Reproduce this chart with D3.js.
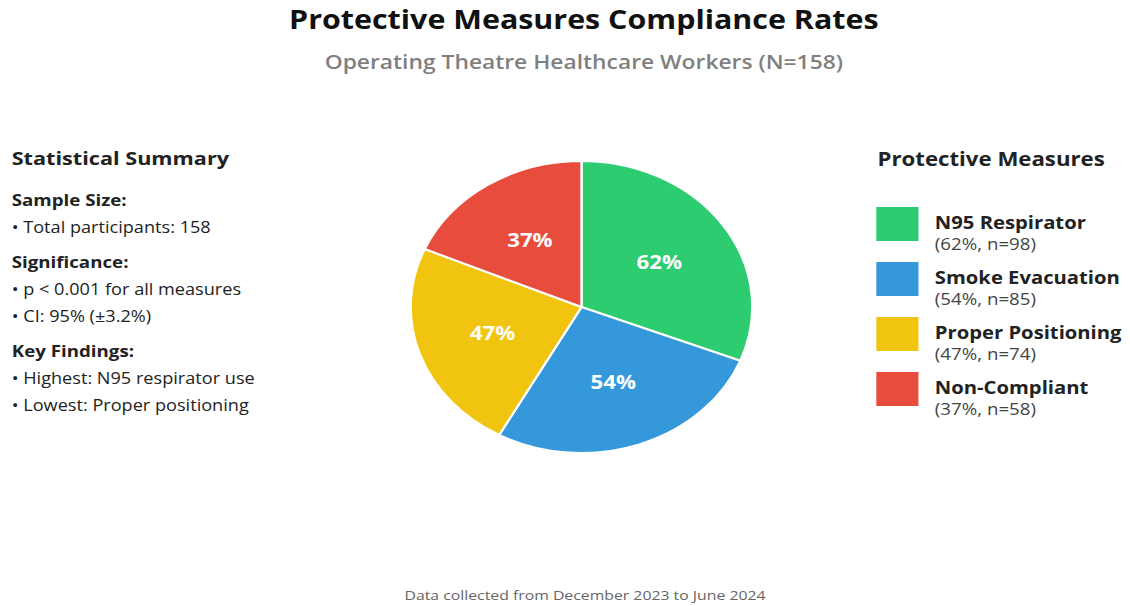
<!DOCTYPE html>
<html lang="en">
<head>
    <meta charset="UTF-8">
    <title>Protective Measures Compliance Rates</title>
    <script src="https://d3js.org/d3.v7.min.js"></script>
</head>
<style>
    html, body {
        margin: 0;
        padding: 0;
        background: #fff;
    }
    #chart svg {
        display: block;
    }
    text {
        font-family: "Segoe UI", "Open Sans", "Noto Sans", sans-serif;
    }
    .slice path {
        stroke: #fff;
        stroke-width: 2px;
    }
    .slice-label {
        fill: #fff;
        font-weight: bold;
        font-size: 19px;
    }
</style>
<body>
<div id="chart"></div>
<script>
  // data
  const measures = ["N95 Respirator", "Smoke Evacuation", "Proper Positioning", "Non-Compliant"];
  const percents = [62, 54, 47, 37];
  const counts = [98, 85, 74, 58];
  const colors = ["#2ecc71", "#3498db", "#f1c40f", "#e74c3c"];

  const summaryHeads = ["Sample Size:", "Significance:", "Key Findings:"];
  const summaryItems = [
    ["Total participants: 158"],
    ["p < 0.001 for all measures", "CI: 95% (±3.2%)"],
    ["Highest: N95 respirator use", "Lowest: Proper positioning"]
  ];

  // page size, the drawing is stretched a bit sideways
  const width = 1130, height = 606;
  const stretch = 1.17;
  const W = width / stretch;
  const cx = 497, cy = 307, radius = 146;

  const svg = d3.select("#chart").append("svg")
    .attr("width", width)
    .attr("height", height)
    .attr("viewBox", `0 0 ${W} ${height}`)
    .attr("preserveAspectRatio", "none");

  // titles
  svg.append("text")
    .attr("x", cx + 2).attr("y", 29)
    .attr("text-anchor", "middle")
    .style("font-size", "26px").style("font-weight", "bold").style("fill", "#111")
    .text("Protective Measures Compliance Rates");

  svg.append("text")
    .attr("x", cx + 2).attr("y", 69)
    .attr("text-anchor", "middle")
    .style("font-size", "19.5px").style("font-weight", "600").style("fill", "#7f7f7f")
    .text("Operating Theatre Healthcare Workers (N=158)");

  // pie
  const pie = d3.pie().sort(null).value(d => d);
  const arc = d3.arc().innerRadius(0).outerRadius(radius);
  const labelArc = d3.arc().innerRadius(radius * 0.55).outerRadius(radius * 0.55);

  const g = svg.append("g").attr("transform", `translate(${cx},${cy})`);

  const slice = g.selectAll(".slice")
    .data(pie(percents))
    .enter().append("g")
    .attr("class", "slice");

  slice.append("path")
    .attr("d", arc)
    .attr("fill", (d, i) => colors[i]);

  slice.append("text")
    .attr("class", "slice-label")
    .attr("transform", d => `translate(${labelArc.centroid(d)})`)
    .attr("text-anchor", "middle")
    .attr("dy", "0.35em")
    .text(d => d.data + "%");

  // statistical summary on the left
  const left = svg.append("g").attr("transform", "translate(10,0)");
  left.append("text")
    .attr("y", 165)
    .style("font-size", "18.5px").style("font-weight", "bold").style("fill", "#222")
    .text("Statistical Summary");

  let y = 206;
  summaryHeads.forEach((h, i) => {
    left.append("text")
      .attr("y", y)
      .style("font-size", "16px").style("font-weight", "bold").style("fill", "#222")
      .text(h);
    y += 27;
    summaryItems[i].forEach(t => {
      left.append("text")
        .attr("y", y)
        .style("font-size", "15.5px").style("fill", "#222")
        .text("• " + t);
      y += 27;
    });
    y += 8;
  });

  // legend on the right
  const legend = svg.append("g").attr("transform", "translate(749,0)");
  legend.append("text")
    .attr("x", 1).attr("y", 166)
    .style("font-size", "19px").style("font-weight", "bold").style("fill", "#222")
    .text("Protective Measures");

  const item = legend.selectAll(".item")
    .data(measures)
    .enter().append("g")
    .attr("class", "item")
    .attr("transform", (d, i) => `translate(0,${207 + i * 55})`);

  item.append("rect")
    .attr("width", 36).attr("height", 34)
    .attr("fill", (d, i) => colors[i]);

  item.append("text")
    .attr("x", 50).attr("y", 22)
    .style("font-size", "17.3px").style("font-weight", "bold").style("fill", "#222")
    .text(d => d);

  item.append("text")
    .attr("x", 50).attr("y", 43)
    .style("font-size", "16px").style("fill", "#444")
    .text((d, i) => `(${percents[i]}%, n=${counts[i]})`);

  // footer
  svg.append("text")
    .attr("x", cx + 3).attr("y", 600)
    .attr("text-anchor", "middle")
    .style("font-size", "13.5px").style("fill", "#666")
    .text("Data collected from December 2023 to June 2024");
</script>
</body>
</html>
